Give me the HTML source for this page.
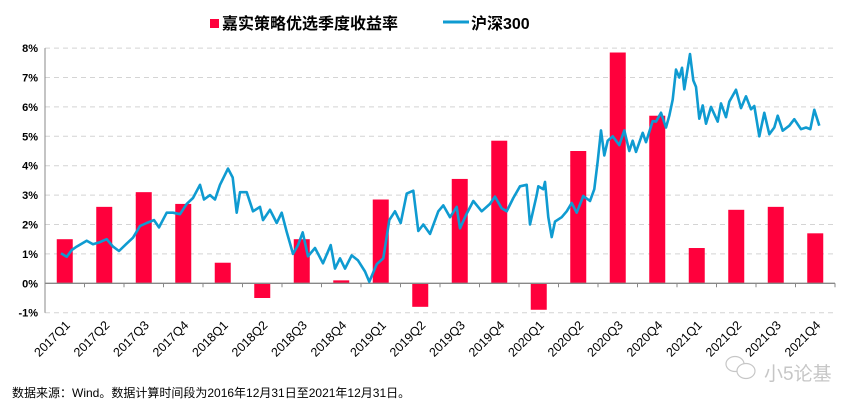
<!DOCTYPE html>
<html><head><meta charset="utf-8"><style>
body{margin:0;background:#fff;width:866px;height:410px;overflow:hidden}
svg{display:block;font-family:"Liberation Sans","Noto Sans CJK SC",sans-serif}
</style></head><body>
<svg id="chart" width="866" height="410" xmlns="http://www.w3.org/2000/svg">
<g id="grid"></g>
<g id="yaxis"></g>
<g id="bars"></g>
<g id="xaxis"></g>
<polyline id="hsline" fill="none" stroke="#0f9bd1" stroke-width="2.6" stroke-linejoin="round"/>
<g>
 <rect x="210" y="19" width="9" height="9" fill="#ff003c"/>
 <text x="222" y="29" font-size="16" font-weight="bold" fill="#000">嘉实策略优选季度收益率</text>
 <line x1="443" y1="22" x2="469" y2="22" stroke="#0f9bd1" stroke-width="3"/>
 <text x="471" y="29" font-size="16" font-weight="bold" fill="#000">沪深300</text>
</g>
<text x="12" y="397" font-size="12" fill="#000">数据来源：Wind。数据计算时间段为2016年12月31日至2021年12月31日。</text>
<g opacity="0.55">
 <ellipse cx="735" cy="364" rx="9" ry="7.5" fill="#fff" stroke="#999" stroke-width="1.2"/>
 <ellipse cx="746" cy="371" rx="9" ry="7.5" fill="#fff" stroke="#999" stroke-width="1.2"/>
 <text x="764" y="380" font-size="19" fill="#999">小5论基</text>
</g>
</svg>
<script>
const categories=["2017Q1","2017Q2","2017Q3","2017Q4","2018Q1","2018Q2","2018Q3","2018Q4","2019Q1","2019Q2","2019Q3","2019Q4","2020Q1","2020Q2","2020Q3","2020Q4","2021Q1","2021Q2","2021Q3","2021Q4"];
const barValues=[1.5,2.6,3.1,2.7,0.7,-0.5,1.5,0.1,2.85,-0.8,3.55,4.85,-0.9,4.5,7.85,5.7,1.2,2.5,2.6,1.7];
const yTicks=[-1,0,1,2,3,4,5,6,7,8];
const yTickLabels=["-1%","0%","1%","2%","3%","4%","5%","6%","7%","8%"];
const lineValues=[1.02,0.9,1.13,1.25,1.45,1.33,1.4,1.5,1.25,1.1,1.35,1.55,1.95,2.05,2.15,1.9,2.4,2.4,2.35,2.7,2.9,3.35,2.85,3.0,2.85,3.35,3.9,3.6,2.4,3.1,3.1,2.45,2.6,2.15,2.5,2.05,2.4,1.75,1.0,1.3,1.73,0.92,1.2,0.68,1.3,0.5,0.85,0.5,0.95,0.78,0.4,0.05,0.65,0.85,2.15,2.45,2.05,3.05,3.15,1.78,2.0,1.68,2.45,2.65,2.25,2.6,1.87,2.37,2.8,2.45,2.7,2.95,2.55,2.45,2.9,3.3,3.35,2.0,3.0,3.3,3.2,3.45,2.25,1.57,2.1,2.25,2.45,2.73,2.4,2.97,2.8,3.2,4.15,5.2,4.35,4.85,5.0,4.7,5.2,4.5,4.85,4.47,5.12,4.8,5.52,5.5,5.8,5.3,5.7,6.25,7.27,7.0,7.33,6.6,7.1,7.8,6.9,6.68,5.6,6.05,5.43,6.0,5.5,6.12,5.65,6.18,6.58,5.96,6.36,5.92,6.03,5.0,5.8,5.07,5.3,5.7,5.19,5.36,5.58,5.24,5.3,5.24,5.9,5.36,5.48];
const lineDates=[61,66.7,71.7,76.7,86.7,93,100,106.7,113,119,126.7,133,140,146.7,154,159,166.7,173,180,186.7,193,200,204,210,215,220,228,232.7,236.7,240,246.7,253,260,263,270,276.7,281.7,286.7,293,298,302.7,308,315,323,330.7,335,340,345,351.7,358,365,369.3,376.7,383.3,389.3,395,400.7,406.7,413.3,418.3,423.3,430,438.3,443.3,450,456.7,460,466.7,473.3,481.7,490,495,501.7,506.7,513.3,520,526.7,530,536.7,538.3,543.3,545,548.3,551.7,555,561.7,566.7,571.7,576.7,583.3,590,594.3,597.7,601,604.3,607.7,612.7,619.3,624.3,629.3,632.7,636,642.7,646,652.7,656,661,666,669.3,672.7,676,679.3,682,684.3,686.7,690,693.3,696,699.3,702.7,706,711,717.7,721,726,729.3,736,741,746,751,754.3,759.3,764.3,769.3,774.3,777.7,782.7,789.3,794.3,801,806,810.3,814.3,819.3];
const NS="http://www.w3.org/2000/svg";
const X0=45,X1=835,Y0=283.3,PER=29.4;
const catW=(X1-X0)/categories.length;
const y=v=>Y0-v*PER;
const xc=i=>X0+catW*(i+0.5);
function mk(tag,attrs,parent){const e=document.createElementNS(NS,tag);for(const k in attrs)e.setAttribute(k,attrs[k]);parent.appendChild(e);return e;}
const grid=document.getElementById('grid'),yax=document.getElementById('yaxis'),bars=document.getElementById('bars'),xax=document.getElementById('xaxis');
yTicks.forEach((t,i)=>{
  if(t!==0){const g=mk('line',{x1:X0,x2:X1,y1:y(t),y2:y(t),stroke:'#d4d4d4','stroke-dasharray':'5,4','stroke-width':1},grid);
  
  }
  const tx=mk('text',{x:38,y:y(t)+4,'text-anchor':'end','font-size':11,'font-weight':'bold',fill:'#000'},yax);
  tx.textContent=yTickLabels[i];
  
  
});
const ya=mk('line',{x1:X0,x2:X0,y1:y(8),y2:y(-1),stroke:'#888','stroke-width':1},yax);


barValues.forEach((v,i)=>{
  const r=mk('rect',{x:xc(i)-8,width:16,y:Math.min(y(v),Y0),height:Math.abs(y(v)-Y0),fill:'#ff003c'},bars);
  
  
});
const xa=mk('line',{x1:X0,x2:X1,y1:Y0,y2:Y0,stroke:'#888','stroke-width':1.3},xax);


categories.forEach((c,i)=>{
  const tk=mk('line',{x1:X0+catW*(i+1),x2:X0+catW*(i+1),y1:Y0,y2:Y0+4,stroke:'#888'},xax);
  
  
  const px=xc(i)+6,py=326;
  const t=mk('text',{x:px,y:py,'text-anchor':'end','font-size':12.5,fill:'#000',transform:'rotate(-45 '+px+' '+py+')'},xax);
  t.textContent=c;
  
  
});
const n=Math.min(lineValues.length,lineDates.length);
const pts=[];
for(let i=0;i<n;i++){pts.push(lineDates[i]+','+y(lineValues[i]).toFixed(1));}
document.getElementById('hsline').setAttribute('points',pts.join(' '));
</script>
</body></html>
